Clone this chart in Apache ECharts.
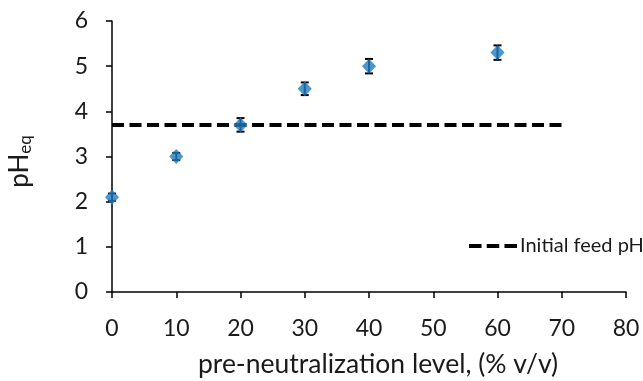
<!DOCTYPE html>
<html>
<head>
<meta charset="utf-8">
<script src="https://cdn.jsdelivr.net/npm/echarts@6/dist/echarts.min.js"></script>
<style>html,body{margin:0;padding:0;background:#fff}#c{width:643px;height:381px}</style>
</head>
<body>
<div id="c"></div>
<script>
const xValues = [0, 10, 20, 30, 40, 60];
const phEq = [2.1, 3.0, 3.7, 4.5, 5.0, 5.3];
const phErr = [0.08, 0.08, 0.15, 0.14, 0.16, 0.16];
const feedX = [0, 70];
const feedPh = [3.7, 3.7];
const xTicks = [0, 10, 20, 30, 40, 50, 60, 70, 80];
const yTicks = [0, 1, 2, 3, 4, 5, 6];

const FONT = 'Lato';
const TXT = '#1a1a1a';
const chart = echarts.init(document.getElementById('c'), null, {renderer: 'canvas'});
const scatterData = xValues.map((x, i) => [x, phEq[i]]);
const errData = xValues.map((x, i) => [x, phEq[i] - phErr[i], phEq[i] + phErr[i]]);
const feedData = feedX.map((x, i) => [x, feedPh[i]]);

chart.setOption({
  animation: false,
  grid: {left: 112, right: 17, top: 21, bottom: 89, containLabel: false, outerBoundsMode: 'none'},
  legend: {
    left: 464, top: 231,
    itemWidth: 48, itemHeight: 14, itemGap: 4,
    textStyle: {fontFamily: FONT, fontSize: 20, color: TXT, padding: [0,0,0,-2]},
    data: [{name: 'Initial feed pH', icon: 'path://M0,0L12,0L12,4L0,4Z M17,0L29,0L29,4L17,4Z M34,0L46,0L46,4L34,4Z'}],
    itemStyle: {color: '#000'}
  },
  xAxis: {
    type: 'value', min: xTicks[0], max: xTicks[xTicks.length - 1], interval: 10,
    name: 'pre-neutralization level, (% v/v)', nameLocation: 'middle', nameGap: 59,
    nameTextStyle: {fontFamily: FONT, fontSize: 26.5, color: TXT, padding: [0,0,0,18]},
    axisLine: {show: true, lineStyle: {color: '#000', width: 1.5}},
    axisTick: {show: true, length: 6, inside: false, lineStyle: {color: '#000', width: 1.5}},
    axisLabel: {fontFamily: FONT, fontSize: 23, color: TXT, margin: 25},
    splitLine: {show: false}
  },
  yAxis: {
    type: 'value', min: yTicks[0], max: yTicks[yTicks.length - 1], interval: 1,
    name: '{a|pH}{b|eq}', nameLocation: 'middle', nameGap: 78,
    nameTextStyle: {
      fontFamily: FONT, color: TXT, padding: [0,0,0,-10],
      rich: {
        a: {fontFamily: FONT, fontSize: 26, color: TXT},
        b: {fontFamily: FONT, fontSize: 17, color: TXT, verticalAlign: 'bottom', padding: [12,0,0,0]}
      }
    },
    axisLine: {show: true, lineStyle: {color: '#000', width: 1.5}},
    axisTick: {show: true, length: 6, inside: false, lineStyle: {color: '#000', width: 1.5}},
    axisLabel: {fontFamily: FONT, fontSize: 23, color: TXT, margin: 24},
    splitLine: {show: false}
  },
  series: [
    {
      name: 'Initial feed pH', type: 'line', data: feedData, symbol: 'none',
      lineStyle: {color: '#000', width: 4, type: [12, 5.5], cap: 'butt'},
      itemStyle: {color: '#000'}, z: 2
    },
    {
      name: 'err', type: 'custom', data: errData, z: 3,
      renderItem: function (params, api) {
        const x = api.value(0);
        const lo = api.coord([x, api.value(1)]);
        const hi = api.coord([x, api.value(2)]);
        const w = 4;
        const style = {stroke: '#000', lineWidth: 2};
        return {type: 'group', children: [
          {type: 'line', shape: {x1: lo[0], y1: lo[1], x2: hi[0], y2: hi[1]}, style},
          {type: 'line', shape: {x1: lo[0]-w, y1: lo[1], x2: lo[0]+w, y2: lo[1]}, style},
          {type: 'line', shape: {x1: hi[0]-w, y1: hi[1], x2: hi[0]+w, y2: hi[1]}, style}
        ]};
      }
    },
    {
      name: 'pHeq', type: 'scatter', data: scatterData, symbol: 'diamond', symbolSize: [14, 15],
      itemStyle: {color: '#1f7bc1'}, z: 4
    }
  ]
});
</script>
</body>
</html>
